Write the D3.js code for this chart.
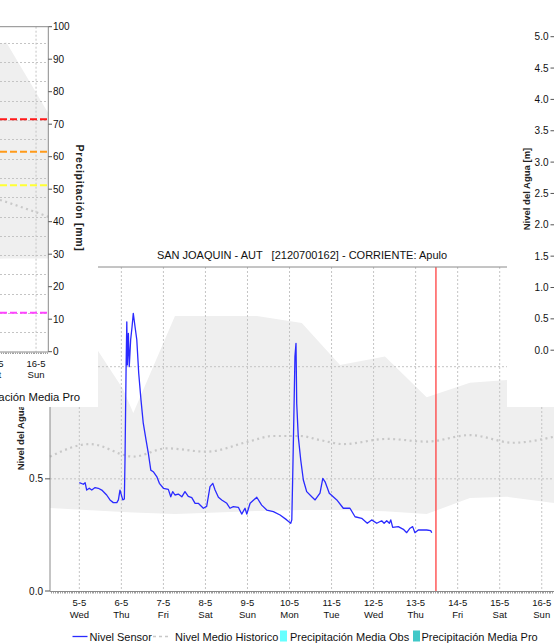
<!DOCTYPE html>
<html><head><meta charset="utf-8">
<script src="https://cdn.jsdelivr.net/npm/d3@7"></script>
<style>
body{margin:0;background:#fff}
svg{display:block;font-family:"Liberation Sans",Arial,sans-serif}
</style>
</head><body>
<svg id="c" width="554" height="643"></svg>
<script>
// ---------- DATA ----------
const title = "SAN JOAQUIN - AUT   [2120700162] - CORRIENTE: Apulo";
const dayLabels = ["5-5","6-5","7-5","8-5","9-5","10-5","11-5","12-5","13-5","14-5","15-5","16-5"];
const weekdayLabels = ["Wed","Thu","Fri","Sat","Sun","Mon","Tue","Wed","Thu","Fri","Sat","Sun"];
const levelTicks = [0, 0.5, 1.0];
// hours since 5-5 00:00
const sensorHours = [0,2.3,3.3,4.2,5.7,7.1,9.0,10.8,12.8,15.6,17.5,19.4,21.4,22.3,23.2,24.8,25.7,26.1,26.7,27.1,27.4,28.0,28.5,29.3,30.1,30.8,31.8,32.8,33.9,35.2,36.5,38.1,39.4,40.8,42.2,44.2,45.7,48.0,50.8,52.2,53.3,54.6,56.5,58.5,60.3,62.2,64.2,66.1,67.9,70.8,72.7,74.6,76.2,77.5,79.4,81.3,84.2,86.0,87.9,90.8,92.7,94.6,95.6,97.5,101.3,104.1,107.0,110.8,114.6,118.4,120.7,121.3,121.8,122.6,123.1,123.7,124.1,125.0,126.4,127.9,129.8,132.7,134.6,137.4,139.0,140.3,142.7,147.0,150.7,154.5,157.4,161.2,164.4,166.9,169.8,172.6,174.0,175.5,177.0,177.8,178.9,182.1,185.0,186.9,188.8,190.3,191.6,193.5,195.5,198.3,200.6,201.2];
const sensorLevel = [0.483,0.476,0.483,0.450,0.458,0.450,0.461,0.458,0.450,0.428,0.406,0.394,0.394,0.406,0.450,0.406,0.410,0.599,1.0,1.20,1.008,1.149,1.0,1.12,1.178,1.238,1.178,1.12,0.971,0.852,0.748,0.673,0.614,0.539,0.532,0.510,0.480,0.458,0.453,0.420,0.443,0.428,0.432,0.420,0.443,0.422,0.416,0.391,0.391,0.369,0.377,0.465,0.480,0.450,0.418,0.406,0.391,0.369,0.376,0.373,0.343,0.369,0.343,0.391,0.418,0.383,0.361,0.354,0.339,0.317,0.302,0.317,0.502,0.829,1.045,1.104,0.837,0.688,0.584,0.495,0.443,0.420,0.406,0.436,0.502,0.487,0.436,0.406,0.369,0.369,0.331,0.324,0.302,0.317,0.302,0.313,0.302,0.313,0.302,0.317,0.284,0.287,0.275,0.260,0.280,0.287,0.260,0.272,0.272,0.272,0.269,0.260];
const histHours = [-16.75,6.1,30.8,49.9,72.7,96.5,110.8,126,137.4,150.7,175.5,198.3,223,247.8,271];
const histMean  = [0.599,0.655,0.599,0.636,0.621,0.666,0.691,0.691,0.673,0.655,0.678,0.666,0.695,0.661,0.688];
const bandHours = [-16.75,6.5,25,30.8,54.6,78.6,101.4,127,148.8,174.5,198.3,223,244.2,271];
const bandUpper = [1.10,1.12,0.90,0.794,1.226,1.226,1.226,1.195,1.008,1.045,0.864,0.929,0.941,0.963];
const bandLower = [0.370,0.360,0.352,0.350,0.343,0.350,0.357,0.361,0.361,0.355,0.343,0.415,0.420,0.392];
const nowHour = 203.6;
const legendLabels = ["Nivel Sensor","Nivel Medio Historico","Precipitación Media Obs","Precipitación Media Pro"];

// left-top panel (precipitation chart fragment)
const precipTicks = [0,10,20,30,40,50,60,70,80,90,100];
const precipGridLevels = [0,0.25,0.5,0.75,1,1.25,1.5,1.75,2,2.25,2.5,2.75,3,3.25,3.5,3.75,4];
const precipBandHours = [243.4,247,271];
const precipBandUpper = [94.6,95.2,73.4];
const precipBandLower = [28.6,28.7,28.7];
const precipMeanHours = [243.4,255,263,271];
const precipMeanValues = [46.7,44.6,43.1,41.5];
const thresholdValues = [71.5,61.5,51.2,12];
const thresholdColors = ["#ff1a1a","#ff9a1a","#ffff33","#ff44ff"];
const precipDayLabels = ["15-5","16-5"];
const precipWeekdays = ["Sat","Sun"];

// right-top panel (level axis fragment)
const rightLevelTicks = [0,0.5,1.0,1.5,2.0,2.5,3.0,3.5,4.0,4.5,5.0];

// ---------- DRAW ----------
const svg = d3.select("#c");
const base = new Date(2021,4,5,0,0);
const H = h => d3.timeMinute.offset(base, Math.round(h*60));
const dayDate = i => d3.timeDay.offset(base, i);
const gridCol = "#c4c4c4", axisCol = "#8a8a8a";
const tickFont = 9.5;

// ===== MAIN CHART =====
const x = d3.scaleTime().domain([H(-16.75), H(271)]).range([50, 554]);
const y = d3.scaleLinear().domain([0, 1.4445]).range([591, 267]);
const main = svg.append("g");

main.append("path")
  .datum(bandHours.map((h,i)=>({t:H(h),u:bandUpper[i],l:bandLower[i]})))
  .attr("fill","#efefef")
  .attr("d", d3.area().x(d=>x(d.t)).y0(d=>y(d.l)).y1(d=>y(d.u)));

main.selectAll(".vg").data(dayLabels).join("line")
  .attr("x1",(d,i)=>x(dayDate(i))).attr("x2",(d,i)=>x(dayDate(i)))
  .attr("y1",267).attr("y2",591)
  .attr("stroke",gridCol).attr("stroke-dasharray","2,2");
main.selectAll(".hg").data(levelTicks.filter(v=>v>0)).join("line")
  .attr("x1",50).attr("x2",554).attr("y1",d=>y(d)).attr("y2",d=>y(d))
  .attr("stroke",gridCol).attr("stroke-dasharray","2,2");

main.append("path")
  .datum(histHours.map((h,i)=>[H(h),histMean[i]]))
  .attr("fill","none").attr("stroke","#c8c8c8").attr("stroke-width",2.2)
  .attr("stroke-dasharray","2,3.5")
  .attr("d", d3.line().x(d=>x(d[0])).y(d=>y(d[1])).curve(d3.curveMonotoneX));

main.append("path")
  .datum(sensorHours.map((h,i)=>[H(h),sensorLevel[i]]))
  .attr("fill","none").attr("stroke","#2a2aff").attr("stroke-width",1.3)
  .attr("stroke-linejoin","round")
  .attr("d", d3.line().x(d=>x(d[0])).y(d=>y(d[1])));

main.append("line").attr("x1",x(H(nowHour))).attr("x2",x(H(nowHour)))
  .attr("y1",267).attr("y2",591).attr("stroke","#ff3030").attr("stroke-width",1.2);

main.append("line").attr("x1",50).attr("x2",554).attr("y1",267).attr("y2",267).attr("stroke",axisCol);
main.append("line").attr("x1",50).attr("x2",50).attr("y1",267).attr("y2",591).attr("stroke",axisCol);
main.append("line").attr("x1",50).attr("x2",554).attr("y1",591.5).attr("y2",591.5).attr("stroke",axisCol);
main.selectAll(".mt").data(d3.timeHour.range(H(-16), H(271))).join("line")
  .attr("x1",d=>Math.round(x(d))+0.5).attr("x2",d=>Math.round(x(d))+0.5)
  .attr("y1",592).attr("y2",593.5).attr("stroke","#a0a0a0");
main.selectAll(".yt").data(levelTicks).join("line")
  .attr("x1",45).attr("x2",50).attr("y1",d=>y(d)).attr("y2",d=>y(d)).attr("stroke","#555");
main.selectAll(".yl").data(levelTicks).join("text")
  .attr("x",43).attr("y",d=>y(d)+3.6).attr("text-anchor","end")
  .attr("font-size",10).attr("fill","#111").text(d=>d3.format(".1f")(d));
main.selectAll(".xl1").data(dayLabels).join("text")
  .attr("x",(d,i)=>x(dayDate(i))).attr("y",606).attr("text-anchor","middle")
  .attr("font-size",tickFont).attr("fill","#111").text(d=>d);
main.selectAll(".xl2").data(weekdayLabels).join("text")
  .attr("x",(d,i)=>x(dayDate(i))).attr("y",617.5).attr("text-anchor","middle")
  .attr("font-size",tickFont).attr("fill","#111").text(d=>d);
main.append("text").attr("transform","translate(20,429) rotate(-90)")
  .attr("text-anchor","middle").attr("dominant-baseline","central")
  .attr("font-size",9.5).attr("font-weight","bold").attr("fill","#222").text("Nivel del Agua [m]");
main.append("text").attr("x",302).attr("y",259).attr("text-anchor","middle")
  .attr("font-size",11).attr("fill","#111").attr("xml:space","preserve")
  .style("white-space","pre").text(title);

const lg = main.append("g").attr("font-size",11).attr("fill","#111");
lg.append("line").attr("x1",72.5).attr("x2",87.5).attr("y1",636.5).attr("y2",636.5).attr("stroke","#2a2aff").attr("stroke-width",1.3);
lg.append("text").attr("x",89.5).attr("y",640.5).text(legendLabels[0]);
lg.append("line").attr("x1",153).attr("x2",171).attr("y1",636.5).attr("y2",636.5).attr("stroke","#c8c8c8").attr("stroke-width",1.5).attr("stroke-dasharray","3,3");
lg.append("text").attr("x",175).attr("y",640.5).text(legendLabels[1]);
lg.append("rect").attr("x",280).attr("y",630.5).attr("width",7).attr("height",11).attr("fill","#66ffff");
lg.append("text").attr("x",290).attr("y",640.5).text(legendLabels[2]);
lg.append("rect").attr("x",413).attr("y",630.5).attr("width",7).attr("height",11).attr("fill","#40c8c8");
lg.append("text").attr("x",421.5).attr("y",640.5).text(legendLabels[3]);

// ===== TOP-LEFT PANEL =====
const p = svg.append("g");
p.append("rect").attr("x",0).attr("y",0).attr("width",98).attr("height",407).attr("fill","#fff");
const px = d3.scaleTime().domain([H(243.42), H(271)]).range([0, 48.3]);
const py = d3.scaleLinear().domain([0,100]).range([351.7, 26.7]);
const pl = d3.scaleLinear().domain([0,4]).range([351.7, 42.8]);
p.append("path")
  .datum(precipBandHours.map((h,i)=>({t:H(h),u:precipBandUpper[i],l:precipBandLower[i]})))
  .attr("fill","#efefef")
  .attr("d", d3.area().x(d=>px(d.t)).y0(d=>py(d.l)).y1(d=>py(d.u)));
p.selectAll(".pg").data(precipGridLevels.filter(v=>v>0)).join("line")
  .attr("x1",0).attr("x2",48.3).attr("y1",d=>Math.round(pl(d))+0.5).attr("y2",d=>Math.round(pl(d))+0.5)
  .attr("stroke",gridCol).attr("stroke-dasharray","2,2");
p.selectAll(".pv").data(precipDayLabels).join("line")
  .attr("x1",(d,i)=>px(dayDate(10+i))).attr("x2",(d,i)=>px(dayDate(10+i)))
  .attr("y1",26.7).attr("y2",351.7).attr("stroke",gridCol).attr("stroke-dasharray","2,2");
p.append("path")
  .datum(precipMeanHours.map((h,i)=>[H(h),precipMeanValues[i]]))
  .attr("fill","none").attr("stroke","#c8c8c8").attr("stroke-width",2.2).attr("stroke-dasharray","2,3.5")
  .attr("d", d3.line().x(d=>px(d[0])).y(d=>py(d[1])).curve(d3.curveMonotoneX));
p.selectAll(".th").data(thresholdValues).join("line")
  .attr("x1",0).attr("x2",48.3).attr("y1",d=>py(d)).attr("y2",d=>py(d))
  .attr("stroke",(d,i)=>thresholdColors[i]).attr("stroke-width",2).attr("stroke-dasharray","7,3");
p.append("line").attr("x1",0).attr("x2",48.3).attr("y1",26.7).attr("y2",26.7).attr("stroke",axisCol);
p.append("line").attr("x1",48.3).attr("x2",48.3).attr("y1",26.7).attr("y2",351.7).attr("stroke",axisCol);
p.append("line").attr("x1",0).attr("x2",48.3).attr("y1",352).attr("y2",352).attr("stroke",axisCol);
p.selectAll(".pmt").data(d3.timeHour.range(H(244), H(271))).join("line")
  .attr("x1",d=>Math.round(px(d))+0.5).attr("x2",d=>Math.round(px(d))+0.5)
  .attr("y1",352.5).attr("y2",354).attr("stroke","#a0a0a0");
p.selectAll(".pt").data(precipTicks).join("line")
  .attr("x1",48.3).attr("x2",52).attr("y1",d=>py(d)).attr("y2",d=>py(d)).attr("stroke","#555");
p.selectAll(".ptl").data(precipTicks).join("text")
  .attr("x",53).attr("y",d=>py(d)+3.6).attr("font-size",10).attr("fill","#111").text(d=>d);
p.selectAll(".pxl").data(precipDayLabels).join("text")
  .attr("x",(d,i)=>px(dayDate(10+i))).attr("y",366.5).attr("text-anchor","middle")
  .attr("font-size",tickFont).attr("fill","#111").text(d=>d);
p.selectAll(".pxw").data(precipWeekdays).join("text")
  .attr("x",(d,i)=>px(dayDate(10+i))).attr("y",378).attr("text-anchor","middle")
  .attr("font-size",tickFont).attr("fill","#111").text(d=>d);
p.append("text").attr("transform","translate(80,198) rotate(90)")
  .attr("text-anchor","middle").attr("dominant-baseline","central")
  .attr("font-size",10.5).attr("font-weight","bold").attr("letter-spacing",0.7)
  .attr("fill","#222").text("Precipitación [mm]");
p.append("text").attr("x",80).attr("y",400.5).attr("text-anchor","end")
  .attr("font-size",11.3).attr("fill","#111").text(legendLabels[3]);

// ===== TOP-RIGHT PANEL =====
const r = svg.append("g");
r.append("rect").attr("x",507).attr("y",0).attr("width",47).attr("height",407).attr("fill","#fff");
const ry = d3.scaleLinear().domain([0,5]).range([350.2, 36.7]);
r.selectAll(".rt").data(rightLevelTicks).join("line")
  .attr("x1",550.5).attr("x2",554).attr("y1",d=>ry(d)).attr("y2",d=>ry(d)).attr("stroke","#555");
r.selectAll(".rl").data(rightLevelTicks).join("text")
  .attr("x",548.5).attr("y",d=>ry(d)+3.6).attr("text-anchor","end")
  .attr("font-size",10).attr("fill","#111").text(d=>d3.format(".1f")(d));
r.append("text").attr("transform","translate(526,189) rotate(-90)")
  .attr("text-anchor","middle").attr("dominant-baseline","central")
  .attr("font-size",9.5).attr("font-weight","bold").attr("fill","#222").text("Nivel del Agua [m]");
</script>
</body></html>
